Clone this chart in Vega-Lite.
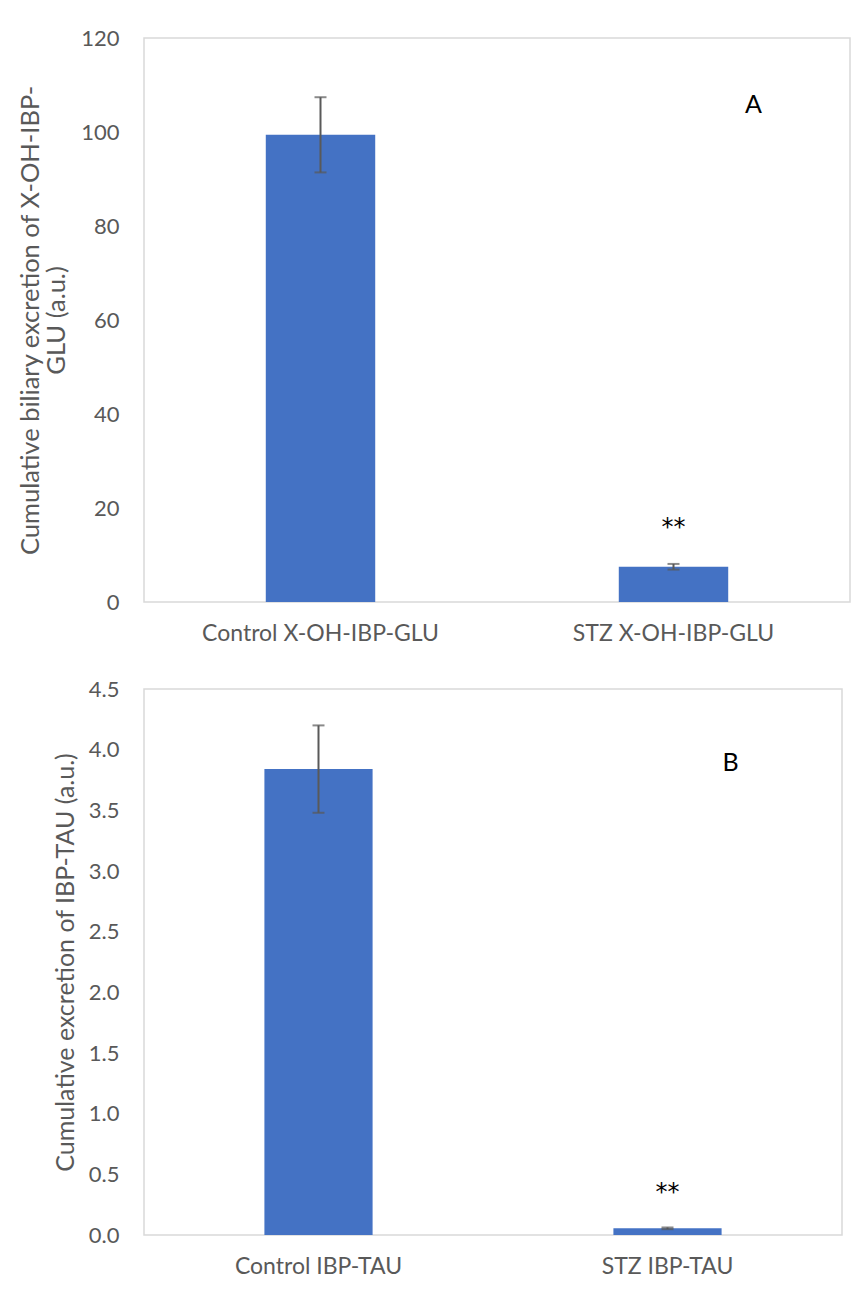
{
  "$schema": "https://vega.github.io/schema/vega-lite/v6.json",
  "padding": {"left": 17, "top": 26, "right": 11, "bottom": 5},
  "background": "white",
  "spacing": 31,
  "config": {
    "font": "Lato",
    "view": {"stroke": "#d9d9d9", "strokeWidth": 1.5},
    "axis": {"grid": false, "domain": false, "ticks": false, "labelColor": "#595959", "titleColor": "#595959", "labelFont": "Lato", "titleFont": "Lato", "labelFontSize": 22, "titleFontSize": 25, "titleFontWeight": "normal", "labelLimit": 400},
    "axisX": {"labelFontSize": 23}
  },
  "vconcat": [
    {
      "width": 706,
      "height": 564,
      "data": {"values": [
        {"group": "Control X-OH-IBP-GLU", "value": 99.4, "lo": 91.4, "hi": 107.4},
        {"group": "STZ X-OH-IBP-GLU", "value": 7.5, "lo": 6.9, "hi": 8.1}
      ]},
      "layer": [
        {
          "mark": {"type": "bar", "color": "#4472C4"},
          "encoding": {
            "x": {"field": "group", "type": "nominal", "sort": null, "scale": {"paddingInner": 0.69, "paddingOuter": 0.345}, "axis": {"title": null, "labelAngle": 0, "labelPadding": 20}},
            "y": {"field": "value", "type": "quantitative", "scale": {"domain": [0, 120]}, "axis": {"values": [0, 20, 40, 60, 80, 100, 120], "labelPadding": 25, "titlePadding": 11, "titleFontSize": 25.5, "title": ["Cumulative biliary excretion of X-OH-IBP-", "GLU (a.u.)"], "titleLineHeight": 26}}
          }
        },
        {
          "mark": {"type": "rule", "color": "#595959", "strokeWidth": 2},
          "encoding": {
            "x": {"field": "group", "type": "nominal", "sort": null},
            "y": {"field": "lo", "type": "quantitative"},
            "y2": {"field": "hi"}
          }
        },
        {
          "mark": {"type": "tick", "color": "#595959", "thickness": 2, "size": 12},
          "encoding": {
            "x": {"field": "group", "type": "nominal", "sort": null},
            "y": {"field": "lo", "type": "quantitative"}
          }
        },
        {
          "mark": {"type": "tick", "color": "#595959", "thickness": 2, "size": 12},
          "encoding": {
            "x": {"field": "group", "type": "nominal", "sort": null},
            "y": {"field": "hi", "type": "quantitative"}
          }
        },
        {
          "data": {"values": [
            {"group": "STZ X-OH-IBP-GLU", "y": 15.7, "label": "**"}
          ]},
          "mark": {"type": "text", "fontSize": 24, "color": "black", "baseline": "middle", "font": "DejaVu Sans"},
          "encoding": {
            "x": {"field": "group", "type": "nominal", "sort": null},
            "y": {"field": "y", "type": "quantitative"},
            "text": {"field": "label"}
          }
        },
        {
          "data": {"values": [
            {"group": "STZ X-OH-IBP-GLU", "y": 105.7, "label": "A"}
          ]},
          "mark": {"type": "text", "fontSize": 25, "color": "black", "baseline": "middle", "dx": 80},
          "encoding": {
            "x": {"field": "group", "type": "nominal", "sort": null},
            "y": {"field": "y", "type": "quantitative"},
            "text": {"field": "label"}
          }
        }
      ]
    },
    {
      "width": 698,
      "height": 546,
      "data": {"values": [
        {"group": "Control IBP-TAU", "value": 3.84, "lo": 3.48, "hi": 4.2},
        {"group": "STZ IBP-TAU", "value": 0.055, "lo": 0.048, "hi": 0.062}
      ]},
      "layer": [
        {
          "mark": {"type": "bar", "color": "#4472C4"},
          "encoding": {
            "x": {"field": "group", "type": "nominal", "sort": null, "scale": {"paddingInner": 0.69, "paddingOuter": 0.345}, "axis": {"title": null, "labelAngle": 0, "labelPadding": 20}},
            "y": {"field": "value", "type": "quantitative", "scale": {"domain": [0, 4.5]}, "axis": {"values": [0, 0.5, 1, 1.5, 2, 2.5, 3, 3.5, 4, 4.5], "format": ".1f", "labelPadding": 25, "titlePadding": 10, "title": "Cumulative excretion of IBP-TAU (a.u.)"}}
          }
        },
        {
          "mark": {"type": "rule", "color": "#595959", "strokeWidth": 2},
          "encoding": {
            "x": {"field": "group", "type": "nominal", "sort": null},
            "y": {"field": "lo", "type": "quantitative"},
            "y2": {"field": "hi"}
          }
        },
        {
          "mark": {"type": "tick", "color": "#595959", "thickness": 2, "size": 12},
          "encoding": {
            "x": {"field": "group", "type": "nominal", "sort": null},
            "y": {"field": "lo", "type": "quantitative"}
          }
        },
        {
          "mark": {"type": "tick", "color": "#595959", "thickness": 2, "size": 12},
          "encoding": {
            "x": {"field": "group", "type": "nominal", "sort": null},
            "y": {"field": "hi", "type": "quantitative"}
          }
        },
        {
          "data": {"values": [
            {"group": "STZ IBP-TAU", "y": 0.35, "label": "**"}
          ]},
          "mark": {"type": "text", "fontSize": 24, "color": "black", "baseline": "middle", "font": "DejaVu Sans"},
          "encoding": {
            "x": {"field": "group", "type": "nominal", "sort": null},
            "y": {"field": "y", "type": "quantitative"},
            "text": {"field": "label"}
          }
        },
        {
          "data": {"values": [
            {"group": "STZ IBP-TAU", "y": 3.89, "label": "B"}
          ]},
          "mark": {"type": "text", "fontSize": 25, "color": "black", "baseline": "middle", "dx": 63},
          "encoding": {
            "x": {"field": "group", "type": "nominal", "sort": null},
            "y": {"field": "y", "type": "quantitative"},
            "text": {"field": "label"}
          }
        }
      ]
    }
  ]
}
